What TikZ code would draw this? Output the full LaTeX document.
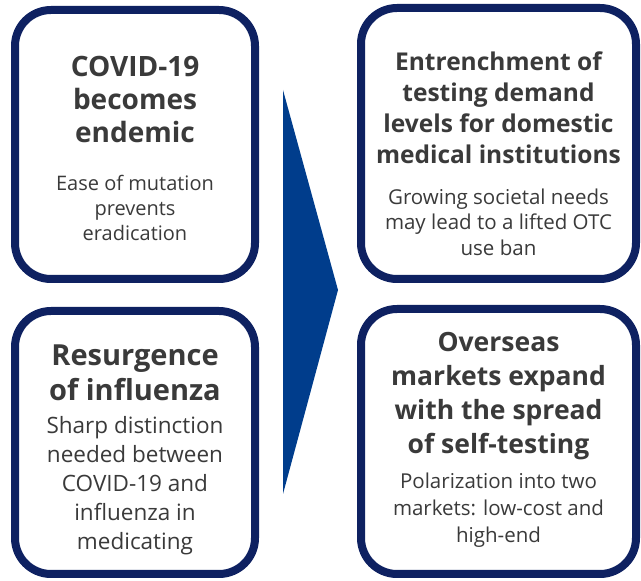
\documentclass[tikz,border=0pt]{standalone}
\usepackage{fontspec}
\setmainfont{Open Sans}

\definecolor{cardblue}{RGB}{14,33,97}
\definecolor{arrowblue}{RGB}{0,61,140}
\definecolor{inkgray}{RGB}{58,58,58}

\tikzset{
  card/.style={draw=cardblue, line width=8pt, rounded corners=36pt, fill=white,
    inner sep=0pt},
  headline/.style={text=inkgray, align=center, inner sep=0pt,
    font=\bfseries\fontsize#1\selectfont},
  detail/.style={text=inkgray, align=center, inner sep=0pt,
    font=\fontsize#1\selectfont}
}

\begin{document}
\begin{tikzpicture}[x=1pt, y=1pt]
\useasboundingbox (0,0) rectangle (641,581);

% the four outcome cards
\node[card, minimum width=240pt, minimum height=269pt] (endemic) at (135,436.5) {};
\node[card, minimum width=240pt, minimum height=263pt] (influenza) at (135,138.5) {};
\node[card, minimum width=275pt, minimum height=271pt] (domestic) at (498.5,437.5) {};
\node[card, minimum width=275pt, minimum height=265pt] (overseas) at (498.5,139.5) {};

% big chevron between the columns
\fill[arrowblue] (283,491) -- (338,291) -- (283,87) -- cycle;

% card texts
\node[headline={{28}{33}}] (endemic-title) at (135,481.5)
  {COVID-19\\becomes\\endemic};
\node[detail={{20}{25}}] (endemic-text) at (135,373)
  {Ease of mutation\\prevents\\eradication};

\node[headline={{29}{35}}] (influenza-title) at (135,208.5)
  {Resurgence\\of influenza};
\node[detail={{22.5}{29}}] (influenza-text) at (135,95)
  {Sharp distinction\\needed between\\COVID-19 and\\influenza in\\medicating};

\node[headline={{24.5}{31}}] (domestic-title) at (498.5,473.5)
  {Entrenchment of\\testing demand\\levels for domestic\\medical institutions};
\node[detail={{20.5}{25.5}}] (domestic-text) at (498.5,359)
  {Growing societal needs\\may lead to a lifted OTC\\use ban};

\node[headline={{26.5}{34}}] (overseas-title) at (498.5,184.5)
  {Overseas\\markets expand\\with the spread\\of self-testing};
\node[detail={{20.5}{27}}] (overseas-text) at (498.5,71)
  {Polarization into two\\markets: low-cost and\\high-end};
\end{tikzpicture}
\end{document}
